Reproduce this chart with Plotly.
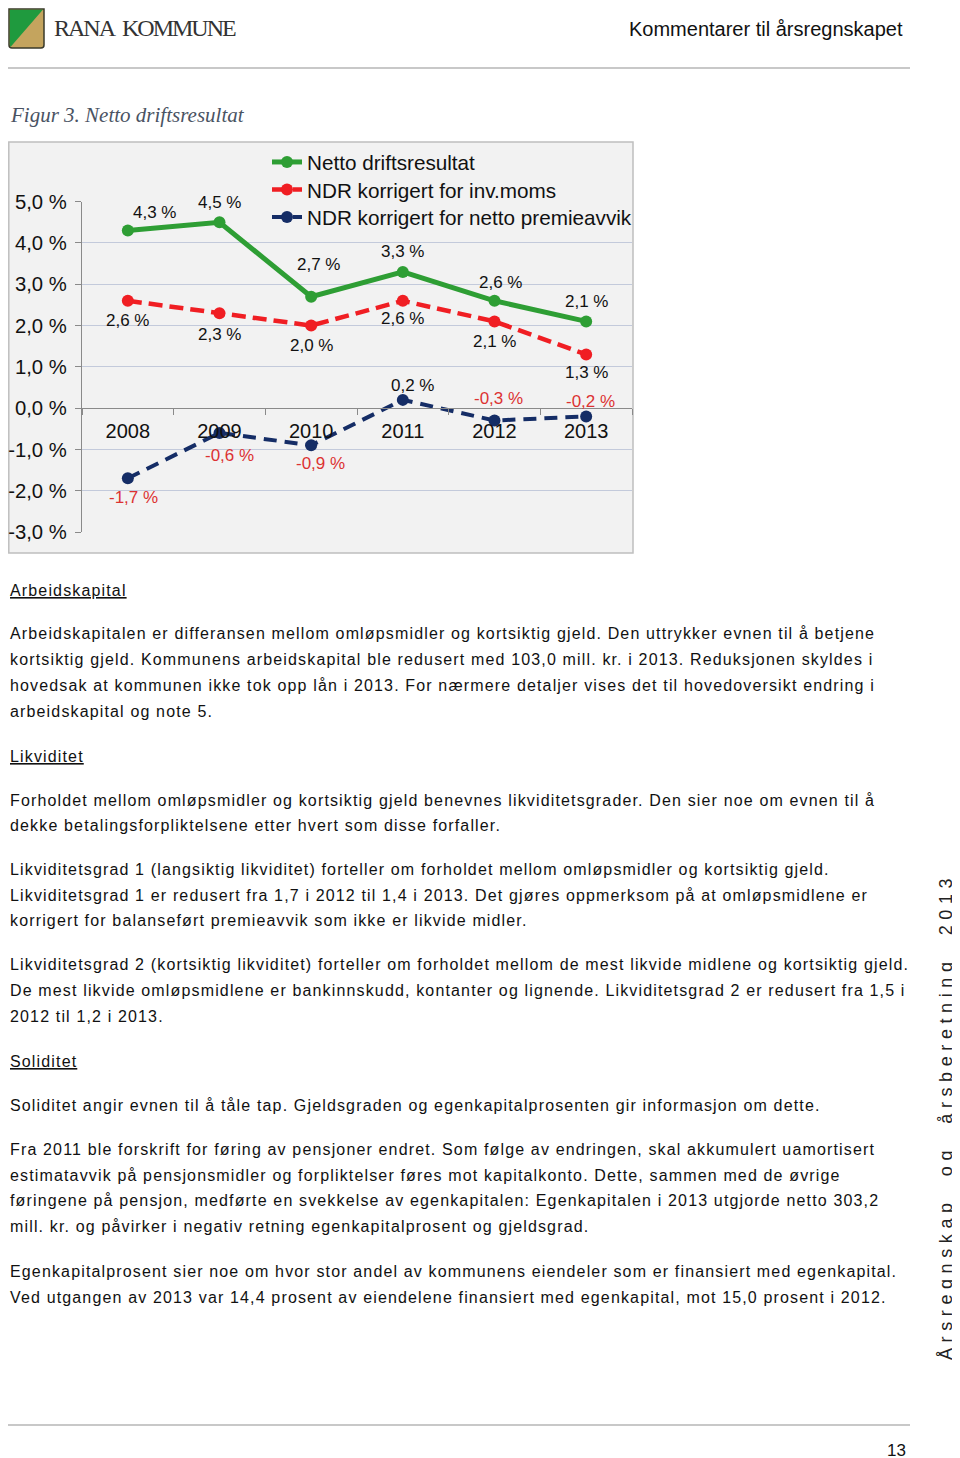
import plotly.graph_objects as go

# ---------------- data ----------------
years = ["2008", "2009", "2010", "2011", "2012", "2013"]
netto = [4.3, 4.5, 2.7, 3.3, 2.6, 2.1]
inv_moms = [2.6, 2.3, 2.0, 2.6, 2.1, 1.3]
premieavvik = [-1.7, -0.6, -0.9, 0.2, -0.3, -0.2]
series_names = ["Netto driftsresultat", "NDR korrigert for inv.moms",
                "NDR korrigert for netto premieavvik"]
y_ticks = [-3, -2, -1, 0, 1, 2, 3, 4, 5]

# label offsets (pixels) per series
netto_shift = [(27, 18), (0, 20), (7, 32), (0, 20), (6, 18), (0, 20)]
moms_shift = [(0, -20), (0, -21), (0, -20), (0, -18), (0, -20), (0, -18)]
prem_shift = [(6, -19), (10, -23), (9, -18), (10, 14), (4, 22), (4, 15)]

body = [
    (590, "<u>Arbeidskapital</u>"),
    (633, "Arbeidskapitalen er differansen mellom omløpsmidler og kortsiktig gjeld. Den uttrykker evnen til å betjene"),
    (659, "kortsiktig gjeld. Kommunens arbeidskapital ble redusert med 103,0 mill. kr. i 2013. Reduksjonen skyldes i"),
    (685, "hovedsak at kommunen ikke tok opp lån i 2013. For nærmere detaljer vises det til hovedoversikt endring i"),
    (711, "arbeidskapital og note 5."),
    (756, "<u>Likviditet</u>"),
    (800, "Forholdet mellom omløpsmidler og kortsiktig gjeld benevnes likviditetsgrader. Den sier noe om evnen til å"),
    (825, "dekke betalingsforpliktelsene etter hvert som disse forfaller."),
    (869, "Likviditetsgrad 1 (langsiktig likviditet) forteller om forholdet mellom omløpsmidler og kortsiktig gjeld."),
    (895, "Likviditetsgrad 1 er redusert fra 1,7 i 2012 til 1,4 i 2013. Det gjøres oppmerksom på at omløpsmidlene er"),
    (920, "korrigert for balanseført premieavvik som ikke er likvide midler."),
    (965, "Likviditetsgrad 2 (kortsiktig likviditet) forteller om forholdet mellom de mest likvide midlene og kortsiktig gjeld."),
    (990, "De mest likvide omløpsmidlene er bankinnskudd, kontanter og lignende. Likviditetsgrad 2 er redusert fra 1,5 i"),
    (1016, "2012 til 1,2 i 2013."),
    (1061, "<u>Soliditet</u>"),
    (1105, "Soliditet angir evnen til å tåle tap. Gjeldsgraden og egenkapitalprosenten gir informasjon om dette."),
    (1149, "Fra 2011 ble forskrift for føring av pensjoner endret. Som følge av endringen, skal akkumulert uamortisert"),
    (1175, "estimatavvik på pensjonsmidler og forpliktelser føres mot kapitalkonto. Dette, sammen med de øvrige"),
    (1200, "føringene på pensjon, medførte en svekkelse av egenkapitalen: Egenkapitalen i 2013 utgjorde netto 303,2"),
    (1226, "mill. kr. og påvirker i negativ retning egenkapitalprosent og gjeldsgrad."),
    (1271, "Egenkapitalprosent sier noe om hvor stor andel av kommunens eiendeler som er finansiert med egenkapital."),
    (1297, "Ved utgangen av 2013 var 14,4 prosent av eiendelene finansiert med egenkapital, mot 15,0 prosent i 2012."),
]

# ---------------- layout helpers ----------------
W, H = 960, 1458
OFF = 8  # page body margin of the browser


def px(x):
    return (x - OFF) / W


def py(y):
    return 1 - (y - OFF) / H


def fmt(v):
    return f"{v:.1f}".replace(".", ",") + " %"


GREEN = "#2e9e34"
RED = "#f01e23"
BLUE = "#152d66"
LABEL_RED = "#dc3232"
SANS = "Liberation Sans, Arial, sans-serif"
SERIF = "Liberation Serif, Times New Roman, serif"

fig = go.Figure()

styles = [
    (netto, GREEN, 5, "solid", "legend"),
    (inv_moms, RED, 4.5, "14px,7px", "legend2"),
    (premieavvik, BLUE, 4, "13px,8px", "legend3"),
]
for (vals, col, lw, dash, leg), name in zip(styles, series_names):
    fig.add_trace(go.Scatter(
        x=years, y=vals, name=name, mode="lines+markers",
        line=dict(color=col, width=lw, dash=dash),
        marker=dict(color=col, size=12),
        hoverinfo="skip", legend=leg,
    ))

annotations = []
for vals, shifts in [(netto, netto_shift), (inv_moms, moms_shift), (premieavvik, prem_shift)]:
    for i, (v, (dx, dy)) in enumerate(zip(vals, shifts)):
        col = LABEL_RED if v < 0 else "#111111"
        annotations.append(dict(
            x=i, y=v, xref="x", yref="y", text=fmt(v), showarrow=False,
            xshift=dx, yshift=dy, font=dict(family=SANS, size=17, color=col),
        ))

# header
annotations.append(dict(x=px(52), y=py(28), xref="paper", yref="paper", xanchor="left",
                        yanchor="middle", showarrow=False,
                        text='<span style="letter-spacing:-2px">RANA\u00a0 KOMMUNE</span>',
                        font=dict(family=SERIF, size=24, color="#333333")))
annotations.append(dict(x=px(905), y=py(29), xref="paper", yref="paper", xanchor="right",
                        yanchor="middle", showarrow=False,
                        text="Kommentarer til årsregnskapet",
                        font=dict(family=SANS, size=20, color="#111111")))
annotations.append(dict(x=px(8), y=py(115), xref="paper", yref="paper", xanchor="left",
                        yanchor="middle", showarrow=False,
                        text="<i>Figur 3. Netto driftsresultat</i>",
                        font=dict(family=SERIF, size=21, color="#4a5363")))

for yy, line in body:
    annotations.append(dict(x=px(8), y=py(yy), xref="paper", yref="paper", xanchor="left",
                            yanchor="middle", showarrow=False, align="left",
                            text=f'<span style="letter-spacing:1.15px">{line}</span>',
                            font=dict(family=SANS, size=16, color="#111111")))

# vertical side text
annotations.append(dict(x=px(946), y=py(1117), xref="paper", yref="paper", xanchor="center",
                        yanchor="middle", showarrow=False, textangle=-90,
                        text='<span style="letter-spacing:5.6px">Årsregnskap  og  årsberetning  2013</span>',
                        font=dict(family=SANS, size=18, color="#222222")))
# page number
annotations.append(dict(x=px(896), y=py(1450), xref="paper", yref="paper", xanchor="center",
                        yanchor="middle", showarrow=False, text="13",
                        font=dict(family=SANS, size=17, color="#111111")))

shapes = [
    # chart frame
    dict(type="rect", xref="paper", yref="paper", x0=px(8.8), x1=px(633), y0=py(553), y1=py(142),
         fillcolor="#f2f2f2", line=dict(color="#bfbfbf", width=1.5), layer="below"),
    # header / footer rules
    dict(type="line", xref="paper", yref="paper", x0=0, x1=px(910), y0=py(68), y1=py(68),
         line=dict(color="#c8c8c8", width=2)),
    dict(type="line", xref="paper", yref="paper", x0=0, x1=px(910), y0=py(1425), y1=py(1425),
         line=dict(color="#c8c8c8", width=2)),
    # logo
    dict(type="path", xref="paper", yref="paper",
         path=f"M {px(9)},{py(9)} L {px(44)},{py(9)} L {px(44)},{py(45)} Q {px(44)},{py(48)} {px(41)},{py(48)} "
              f"L {px(12)},{py(48)} Q {px(9)},{py(48)} {px(9)},{py(45)} Z",
         fillcolor="#c4a45e", line=dict(color="#3a3a2a", width=1.5)),
    dict(type="path", xref="paper", yref="paper",
         path=f"M {px(9.8)},{py(9.8)} L {px(42.8)},{py(9.8)} L {px(10.5)},{py(47)} L {px(9.8)},{py(45)} Z",
         fillcolor="#1f9a3e", line=dict(width=0)),
]

leg_common = dict(x=px(267), xanchor="left", yanchor="top", bgcolor="rgba(0,0,0,0)",
                  font=dict(family=SANS, size=20.7, color="#111111"), itemwidth=30)

fig.update_layout(
    width=W, height=H,
    margin=dict(l=0, r=0, t=0, b=0, autoexpand=False),
    paper_bgcolor="white",
    plot_bgcolor="rgba(0,0,0,0)",
    showlegend=True,
    legend=dict(y=py(142), **leg_common),
    legend2=dict(y=py(169.5), **leg_common),
    legend3=dict(y=py(197), **leg_common),
    xaxis=dict(
        domain=[px(82), px(632)], type="category", categoryorder="array", categoryarray=years,
        range=[-0.5, 5.5], anchor="free", position=py(408), automargin=False,
        showline=True, linecolor="#8a8a8a", linewidth=1.2,
        ticks="outside", tickson="boundaries", ticklen=6, tickcolor="#8a8a8a",
        showgrid=False, zeroline=False,
        tickfont=dict(family=SANS, size=20, color="#111111"),
        ticklabelstandoff=5,
    ),
    yaxis=dict(
        domain=[py(532), py(201.7)], range=[-3, 5], automargin=False,
        tickvals=y_ticks, ticktext=[fmt(v) for v in y_ticks],
        showline=True, linecolor="#8a8a8a", linewidth=1.2,
        ticks="outside", ticklen=6, tickcolor="#8a8a8a",
        showgrid=True, gridcolor="#c3cadb", gridwidth=1, zeroline=False,
        tickfont=dict(family=SANS, size=20.3, color="#111111"),
        ticklabelstandoff=4,
    ),
    annotations=annotations,
    shapes=shapes,
)

fig.write_html("out.html")
